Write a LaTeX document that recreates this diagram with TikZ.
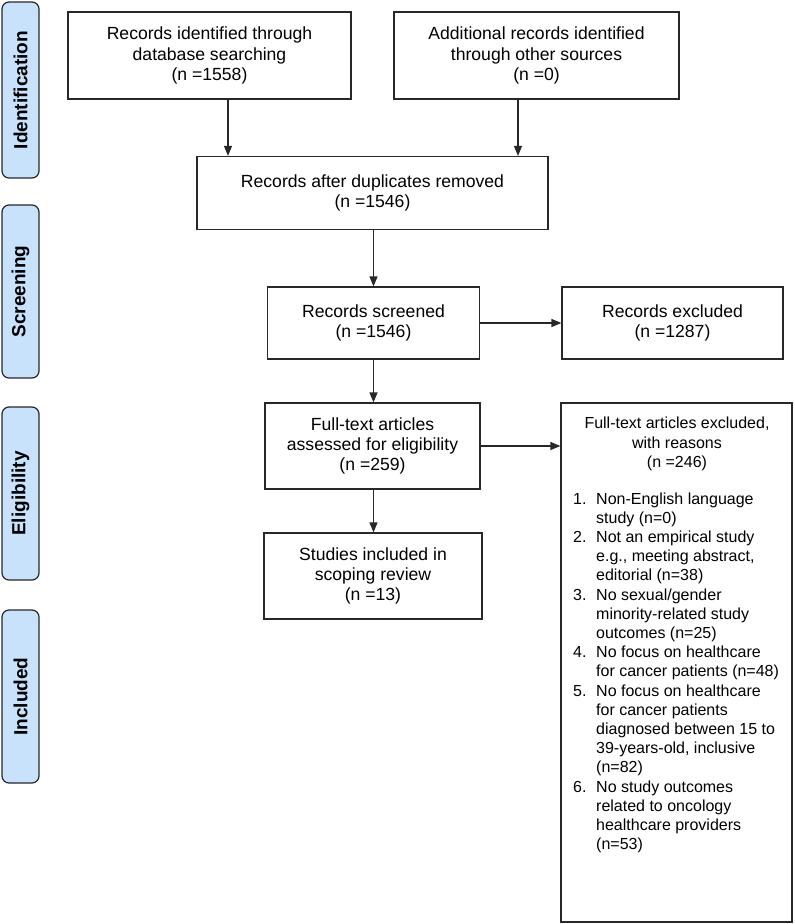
\documentclass[tikz,border=0pt]{standalone}
\usepackage{fontspec}
\setmainfont{Liberation Sans}
\usetikzlibrary{arrows.meta}
\definecolor{barfill}{RGB}{200,226,252}
\definecolor{linecol}{RGB}{40,40,40}
\begin{document}
\begin{tikzpicture}[x=1pt,y=-1pt,
  box/.style={draw=linecol, line width=1.2pt, fill=white, align=center,
    font=\fontsize{17.6}{20.3}\selectfont, inner sep=0pt},
  bar/.style={draw=linecol, line width=1.2pt, fill=barfill, rounded corners=7pt,
    rotate=90, font=\bfseries\fontsize{19}{20}\selectfont,
    minimum height=37pt, inner sep=0pt},
  arr/.style={-{Triangle[length=10pt,width=8pt]}, line width=1.2pt, draw=linecol},
  small/.style={font=\fontsize{16}{19.2}\selectfont, inner sep=0pt}]
\useasboundingbox (0,0) rectangle (795,924);

% phase bars
\node[bar, minimum width=176pt] (bid) at (20.5,90) {Identification};
\node[bar, minimum width=173pt] (bsc) at (20.5,291.5) {Screening};
\node[bar, minimum width=173pt] (bel) at (20.5,493.5) {Eligibility};
\node[bar, minimum width=173pt] (bin) at (20.5,696.5) {Included};

% boxes
\node[box, minimum width=283pt, minimum height=87pt] (b1) at (209.5,55.5)
  {Records identified through\\database searching\\(n =1558)};
\node[box, minimum width=285pt, minimum height=87pt] (b2) at (536.5,55.5)
  {Additional records identified\\through other sources\\(n =0)};
\node[box, minimum width=351pt, minimum height=73pt] (b3) at (372.5,193)
  {Records after duplicates removed\\(n =1546)};
\node[box, minimum width=212pt, minimum height=72pt] (b4) at (373.5,323)
  {Records screened\\(n =1546)};
\node[box, minimum width=221pt, minimum height=72pt] (b5) at (672.5,323)
  {Records excluded\\(n =1287)};
\node[box, minimum width=215pt, minimum height=86pt] (b6) at (372.5,446)
  {Full-text articles\\assessed for eligibility\\(n =259)};
\node[box, minimum width=218pt, minimum height=86pt] (b7) at (373,576)
  {Studies included in\\scoping review\\(n =13)};
\node[box, minimum width=231pt, minimum height=519pt] (b8) at (676.5,662.5) {};

\node[small, align=center] (h8) at (677,444)
  {Full-text articles excluded,\\with reasons\\(n =246)};
\node[small, anchor=base west] (l8) at (573,504)
  {\fontsize{16}{19.2}\selectfont\begin{tabular}[t]{@{}p{23pt}@{}l@{}}
  1. & Non-English language\\
     & study (n=0)\\
  2. & Not an empirical study\\
     & e.g., meeting abstract,\\
     & editorial (n=38)\\
  3. & No sexual/gender\\
     & minority-related study\\
     & outcomes (n=25)\\
  4. & No focus on healthcare\\
     & for cancer patients (n=48)\\
  5. & No focus on healthcare\\
     & for cancer patients\\
     & diagnosed between 15 to\\
     & 39-years-old, inclusive\\
     & (n=82)\\
  6. & No study outcomes\\
     & related to oncology\\
     & healthcare providers\\
     & (n=53)
  \end{tabular}};

% connectors
\coordinate (c1) at (228,0);
\coordinate (c2) at (518,0);
\draw[arr] (b1.south -| c1) -- (b3.north -| c1);
\draw[arr] (b2.south -| c2) -- (b3.north -| c2);
\draw[arr] (b3.south -| b4.north) -- (b4.north);
\draw[arr] (b4.south) -- (b6.north -| b4.south);
\draw[arr] (b6.south -| b4.south) -- (b7.north -| b4.south);
\draw[arr] (b4.east) -- (b5.west);
\draw[arr] (b6.east) -- (b6.east -| b8.west);
\end{tikzpicture}
\end{document}
